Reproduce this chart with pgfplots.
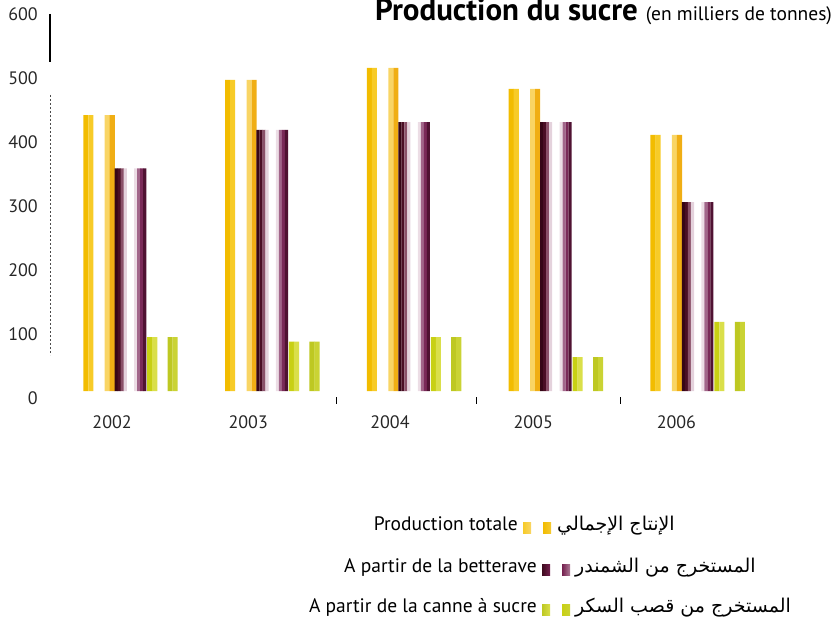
\documentclass[border=0pt]{standalone}
\usepackage{pgfplots}
\usepackage{pgfplotstable}
\pgfplotsset{compat=1.18}
\usepackage{fontspec}
\setmainfont{PT Sans}
\newfontfamily\arabicfont[Script=Arabic]{DejaVu Sans}
\TeXXeTstate=1

\definecolor{yAd}{HTML}{F2BC00}
\definecolor{yAl}{HTML}{F7CB28}
\definecolor{yBl}{HTML}{F9D565}
\definecolor{yBd}{HTML}{F0AE14}
\definecolor{pA1}{HTML}{360616}
\definecolor{pA2}{HTML}{4A0E24}
\definecolor{pA3}{HTML}{8A5068}
\definecolor{pA4}{HTML}{E4D2DC}
\definecolor{pB1}{HTML}{ECDDE5}
\definecolor{pB2}{HTML}{A2668A}
\definecolor{pB3}{HTML}{7A2A58}
\definecolor{pB4}{HTML}{501232}
\definecolor{pMid}{HTML}{74204E}
\definecolor{pDark}{HTML}{3E0A1E}
\definecolor{gAd}{HTML}{C8D014}
\definecolor{gAl}{HTML}{DADF4A}
\definecolor{gBd}{HTML}{BEC822}
\definecolor{gBl}{HTML}{CAD334}

\pgfplotstableread{
x total bet canne
0 431 348 84
1 486 408 77
2 505 420 84
3 472 420 53
4 400 295 108
}\sugar

% one vertical slice of a bar: colour, width, shift, column
\newcommand{\slice}[4]{\addplot[ybar, draw=none, fill=#1, bar width=#2, bar shift=#3] table[x=x,y=#4]{\sugar};}

\begin{document}
\begin{tikzpicture}
\useasboundingbox (0,0) rectangle (840pt,630pt);
\begin{axis}[
  at={(50pt,239pt)}, anchor=south west,
  scale only axis, width=719pt, height=384pt,
  xmin=-0.5677, xmax=4.503, ymin=0, ymax=600,
  axis line style={draw=none},
  major tick length=0pt,
  clip=false,
  ytick={0,100,...,600},
  xtick={-0.13,0.83,1.83,2.84,3.85},
  xticklabels={2002,2003,2004,2005,2006},
  /pgf/number format/assume math mode=true,
  /pgf/number format/1000 sep={},
  ticklabel style={font=\fontsize{18}{21}\selectfont, text=black!85},
  yticklabel style={anchor=east, inner sep=0pt, xshift=-12pt, yshift=-7.5pt},
  xticklabel style={anchor=north, inner sep=0pt, yshift=-24pt},
]
% total production (two yellow bars)
\slice{yAd}{0.0360}{-0.3151}{total}
\slice{yAl}{0.0360}{-0.2799}{total}
\slice{yBl}{0.0360}{-0.1637}{total}
\slice{yBd}{0.0360}{-0.1285}{total}
% beet (two purple bars)
\slice{pA1}{0.0220}{-0.1004}{bet}
\slice{pA2}{0.0220}{-0.0792}{bet}
\slice{pA3}{0.0220}{-0.0581}{bet}
\slice{pA4}{0.0220}{-0.0370}{bet}
\slice{pB1}{0.0220}{0.0370}{bet}
\slice{pB2}{0.0220}{0.0581}{bet}
\slice{pB3}{0.0220}{0.0792}{bet}
\slice{pB4}{0.0220}{0.1004}{bet}
% cane (two green bars)
\slice{gAd}{0.0360}{0.1356}{canne}
\slice{gAl}{0.0360}{0.1708}{canne}
\slice{gBd}{0.0360}{0.2799}{canne}
\slice{gBl}{0.0360}{0.3151}{canne}
\end{axis}

% left axis fragments
\draw[black, line width=1.1pt] (50pt,616pt) -- (50pt,568pt);
\draw[black!70, line width=0.5pt, dash pattern=on 2pt off 2pt] (50pt,535pt) -- (50pt,275pt);
% small bottom ticks
\foreach \xx in {336,476,620}{\draw[black, line width=0.8pt] (\xx pt,233pt) -- (\xx pt,226pt);}

% title
\node[anchor=base west, inner sep=0pt] at (375pt,609pt)
  {\fontsize{31}{36}\selectfont\bfseries Production du sucre {\mdseries\fontsize{19.5}{23}\selectfont(en milliers de tonnes)}};

% legend
\begin{scope}[every node/.style={inner sep=0pt, font=\fontsize{19.5}{23}\selectfont}]
\node[anchor=base east] at (518pt,100pt) {Production totale};
\fill[left color=yAl, right color=yBl] (523pt,97pt) rectangle (531pt,108pt);
\fill[left color=yAd, right color=yAd!80!white] (543pt,97pt) rectangle (551pt,108pt);
\node[anchor=base west] at (557pt,100pt) {\arabicfont\fontsize{19}{23}\selectfont\beginR الإنتاج الإجمالي\endR};

\node[anchor=base east] at (537pt,58pt) {A partir de la betterave};
\fill[left color=pDark, right color=pMid] (542pt,55pt) rectangle (550pt,66pt);
\fill[left color=pMid, right color=pMid!60!white] (562pt,55pt) rectangle (570pt,66pt);
\node[anchor=base west] at (575pt,58pt) {\arabicfont\fontsize{19}{23}\selectfont\beginR المستخرج من الشمندر\endR};

\node[anchor=base east] at (537pt,18pt) {A partir de la canne à sucre};
\fill[left color=gBd, right color=gAl] (542pt,15pt) rectangle (550pt,26pt);
\fill[left color=gAd, right color=gBl] (562pt,15pt) rectangle (570pt,26pt);
\node[anchor=base west] at (575pt,18pt) {\arabicfont\fontsize{19}{23}\selectfont\beginR المستخرج من قصب السكر\endR};
\end{scope}
\end{tikzpicture}
\end{document}
